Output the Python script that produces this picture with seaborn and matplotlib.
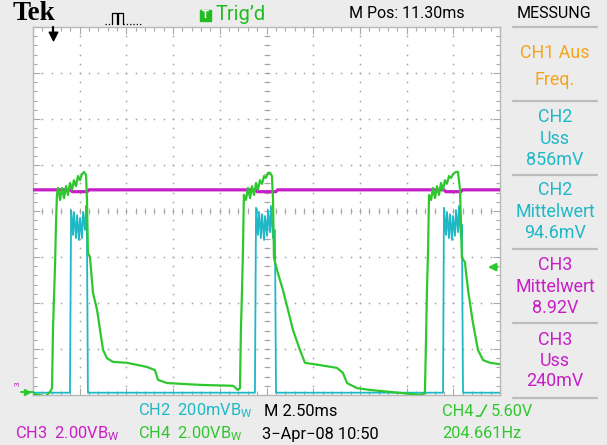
import matplotlib
matplotlib.use("Agg")
import matplotlib.pyplot as plt
from matplotlib.lines import Line2D
from matplotlib.patches import Rectangle
import numpy as np
import seaborn as sns

# ---------------- data (time in ms, amplitude in screen divisions from centre) -------------
ch4_t = [0.00, 0.37, 0.64, 0.91, 1.02, 1.07, 1.12, 1.18, 1.23, 1.28, 1.34,
         1.45, 1.55, 1.66, 1.77, 1.87, 1.98, 2.09, 2.19, 2.30, 2.41, 2.52, 2.62, 2.73, 2.84, 2.89, 2.94,
         3.05, 3.21, 3.43, 3.59, 3.75, 3.96, 4.28, 5.03, 6.10, 6.53, 6.69, 7.17, 8.94, 10.71, 10.97, 11.08,
         11.13, 11.19, 11.24, 11.29,
         11.40, 11.51, 11.62, 11.72, 11.83, 11.94, 12.04, 12.15, 12.26, 12.37, 12.47, 12.58, 12.69, 12.79, 12.85, 12.90,
         13.11, 13.38, 13.65, 13.92, 14.29, 14.56, 15.36, 16.27, 16.59, 16.81, 17.34, 18.04, 19.81, 20.72, 20.98,
         21.04, 21.09, 21.15, 21.20,
         21.31, 21.41, 21.52, 21.63, 21.73, 21.84, 21.95, 22.05, 22.16, 22.27, 22.38, 22.48, 22.64, 22.75, 22.86, 22.96,
         23.12, 23.29, 23.55, 23.82, 24.09, 24.46, 25.00]
ch4_v = [-3.98, -4.00, -4.04, -3.93, -3.85, -2.59, -1.93, -1.17, -0.30, 0.35, 0.50,
         0.24, 0.50, 0.28, 0.54, 0.35, 0.61, 0.46, 0.67, 0.54, 0.76, 0.67, 0.80, 0.85, 0.78, 0.24, -0.91,
         -1.00, -1.78, -2.15, -2.59, -3.02, -3.20, -3.28, -3.30, -3.39, -3.46, -3.67, -3.74, -3.78, -3.80, -3.89, -3.85,
         -2.59, -1.72, -0.85, 0.35,
         0.24, 0.50, 0.28, 0.54, 0.35, 0.61, 0.46, 0.67, 0.59, 0.76, 0.72, 0.83, 0.83, 0.76, 0.24, -1.02,
         -1.35, -1.72, -2.15, -2.59, -3.02, -3.30, -3.35, -3.41, -3.52, -3.74, -3.85, -3.89, -3.96, -4.00, -3.96,
         -2.80, -1.72, -0.85, 0.35,
         0.24, 0.50, 0.28, 0.54, 0.35, 0.61, 0.46, 0.67, 0.59, 0.76, 0.72, 0.80, 0.85, 0.85, 0.46, -1.02,
         -1.11, -1.72, -2.43, -3.02, -3.24, -3.30, -3.33]

ch2_t = [0.00, 1.98, 2.04, 2.14, 2.19, 2.30, 2.36, 2.46, 2.52, 2.62, 2.68, 2.78, 2.84, 2.89, 2.94,
         11.88, 11.94, 12.04, 12.10, 12.20, 12.26, 12.37, 12.42, 12.53, 12.58, 12.69, 12.74, 12.85, 12.95, 13.01,
         21.95, 22.00, 22.11, 22.16, 22.27, 22.32, 22.43, 22.48, 22.59, 22.64, 22.75, 22.80, 22.91, 22.96, 23.02, 25.00]
ch2_v = [-3.95, -3.95, 0.02, -0.52, -0.02, -0.59, -0.09, -0.63, -0.15, -0.59, -0.02, -0.41, 0.11, -0.63, -3.95,
         -3.95, 0.07, -0.52, -0.02, -0.59, -0.07, -0.63, -0.11, -0.54, 0.02, -0.46, 0.11, -0.59, -0.41, -3.95,
         -3.95, 0.07, -0.52, -0.02, -0.59, -0.07, -0.63, -0.11, -0.54, 0.02, -0.46, 0.11, -0.59, -0.30, -3.95, -3.95]

ch3_t = [0.0, 2.0, 2.1, 2.9, 3.0, 11.9, 12.0, 13.0, 13.1, 22.0, 22.1, 22.9, 23.0, 25.0]
ch3_v = [0.46, 0.46, 0.42, 0.42, 0.46, 0.46, 0.42, 0.42, 0.46, 0.46, 0.42, 0.42, 0.46, 0.46]

trig_pos_ms = 1.07
trig_level_div = -1.22

header_texts = ["Tek", "Trig\u2019d", "M Pos: 11.30ms", "MESSUNG"]
panel_blocks = [["CH1 Aus", "Freq."],
                ["CH2", "Uss", "856mV"],
                ["CH2", "Mittelwert", "94.6mV"],
                ["CH3", "Mittelwert", "8.92V"],
                ["CH3", "Uss", "240mV"]]
bottom_row1 = ["CH2  200mV$\\mathregular{B_W}$", "M 2.50ms", "CH4", "5.60V"]
bottom_row2 = ["CH3  2.00V$\\mathregular{B_W}$", "CH4  2.00V$\\mathregular{B_W}$", "3\u2212Apr\u221208 10:50", "204.661Hz"]

# ---------------- style ----------------
GREEN = "#2ec82e"
CYAN = "#1fb8c6"
MAGENTA = "#c81ec8"
ORANGE = "#f5a41e"
BG = "#ececec"
GRID = "#a8a8a8"
FONT = ["Roboto", "DejaVu Sans"]

sns.set_style("white")
plt.rcParams["font.family"] = FONT

W, H = 607, 445
fig = plt.figure(figsize=(W / 100, H / 100), dpi=100, facecolor=BG)
ax = fig.add_axes([33 / W, 1 - 395 / H, 467 / W, 368 / H])
ax.set_facecolor("white")
ax.set_xlim(0, 25)
ax.set_ylim(-4, 4)

# graticule
ax.set_xticks(np.arange(0, 25.01, 2.5))
ax.set_xticks(np.arange(0, 25.01, 0.5), minor=True)
ax.set_yticks(np.arange(-4, 4.01, 1))
ax.set_yticks(np.arange(-4, 4.01, 0.2), minor=True)
ax.tick_params(which="both", direction="in", top=True, right=True, bottom=True, left=True,
               labelbottom=False, labelleft=False, color=GRID, width=0.8)
ax.tick_params(which="major", length=5)
ax.tick_params(which="minor", length=3)
for s in ax.spines.values():
    s.set_color("#b8b8b8")
    s.set_linewidth(1.0)

ys = np.arange(-4, 4.01, 0.2)
xs = np.arange(0, 25.01, 0.5)
for xv in np.arange(2.5, 24.9, 2.5):
    ax.scatter(np.full(len(ys), xv), ys, s=1.6, color=GRID, linewidths=0, zorder=1)
for yv in np.arange(-3, 3.1, 1):
    ax.scatter(xs, np.full(len(xs), yv), s=1.6, color=GRID, linewidths=0, zorder=1)
ax.scatter(xs, np.zeros(len(xs)), marker="|", s=14, color=GRID, linewidths=0.8, zorder=1)
ax.scatter(np.full(len(ys), 12.5), ys, marker="_", s=14, color=GRID, linewidths=0.8, zorder=1)

# traces
sns.lineplot(x=ch3_t, y=ch3_v, ax=ax, color=MAGENTA, lw=2.3, sort=False, estimator=None, zorder=3)
sns.lineplot(x=ch2_t, y=ch2_v, ax=ax, color=CYAN, lw=1.3, sort=False, estimator=None, zorder=4)
sns.lineplot(x=ch4_t, y=ch4_v, ax=ax, color=GREEN, lw=1.6, sort=False, estimator=None, zorder=5)
ax.set_xlabel("")
ax.set_ylabel("")

# trigger markers
ax.plot([trig_pos_ms, trig_pos_ms], [4.0, 3.82], color="black", lw=1.6, zorder=6, clip_on=False)
ax.scatter([trig_pos_ms], [3.80], marker="v", s=38, color="black", zorder=6)
ax.annotate("", xy=(24.2, trig_level_div), xytext=(25.0, trig_level_div),
            arrowprops=dict(arrowstyle="-|>", color=GREEN, lw=1.6, mutation_scale=11), zorder=6)

# ---------------- helpers in figure pixels ----------------
renderer = fig.canvas.get_renderer()


def fx(x):
    return x / W


def fy(y):
    return 1 - y / H


def size_for(s, width, family=FONT, weight="normal"):
    t = fig.text(0, 0, s, size=12, family=family, weight=weight)
    w = t.get_window_extent(renderer).width
    t.remove()
    return 12 * width / w


def put(x, y, s, color, size, ha="left", family=FONT, weight="normal"):
    return fig.text(fx(x), fy(y), s, color=color, size=size, ha=ha, va="center",
                    family=family, weight=weight)


def right_px(t):
    return t.get_window_extent(renderer).x1


def pline(pts, color, lw=1.2, ls="-"):
    fig.add_artist(Line2D([fx(p[0]) for p in pts], [fy(p[1]) for p in pts], color=color,
                          lw=lw, ls=ls, transform=fig.transFigure))


# header
serif = ["Liberation Serif", "DejaVu Serif"]
put(13, 14, header_texts[0], "black", size_for(header_texts[0], 43, serif, "bold"), family=serif, weight="bold")
pline([(105, 24), (112, 24)], "black", lw=0.9, ls=":")
pline([(112, 24), (112, 13), (117, 13), (117, 24), (118, 24), (118, 13), (123, 13), (123, 24)], "black", lw=0.9)
pline([(123, 24), (141, 24)], "black", lw=0.9, ls=":")
fig.add_artist(Rectangle((fx(200), fy(21)), 11 / W, 11 / H, color="#22bb22", transform=fig.transFigure))
fig.text(fx(205.5), fy(15.5), "T", color="white", size=8, weight="bold", ha="center", va="center")
hsize = size_for(header_texts[2], 116)
put(216, 14, header_texts[1], "#22bb22", size_for(header_texts[1], 50))
put(349, 14, header_texts[2], "black", hsize)
put(517, 14, header_texts[3], "black", hsize)

# measurement panel
for ysep in [27, 101, 175, 249, 323, 398]:
    pline([(513, ysep), (597, ysep)], "#bcbcbc", lw=1.6)
psize = size_for("Mittelwert", 80)
panel_y = [[53, 80], [117, 139, 160], [190, 212, 233], [265, 287, 308], [340, 361, 381]]
panel_c = [ORANGE, CYAN, CYAN, MAGENTA, MAGENTA]
for block, yy, c in zip(panel_blocks, panel_y, panel_c):
    for s, y in zip(block, yy):
        put(555, y, s, c, psize, ha="center")

# bottom status lines
bsize = size_for(bottom_row1[0], 114)
put(138, 411, bottom_row1[0], CYAN, bsize)
put(264, 411, bottom_row1[1], "black", bsize)
t_ch4 = put(442, 411, bottom_row1[2], GREEN, bsize)
xe = right_px(t_ch4)
pline([(xe + 3, 416), (xe + 7, 416), (xe + 13, 405)], GREEN, lw=1.2)
put(xe + 17, 411, bottom_row1[3], GREEN, bsize)
put(15, 434, bottom_row2[0], MAGENTA, bsize)
put(138, 434, bottom_row2[1], GREEN, bsize)
put(262, 434, bottom_row2[2], "black", bsize)
put(442, 434, bottom_row2[3], GREEN, bsize)

# ground reference markers on the left
fig.text(fx(18), fy(384), "3", color=MAGENTA, size=6, rotation=90, ha="center", va="center")
pline([(21, 392), (33, 392)], GREEN, lw=1.4)
fig.add_artist(Line2D([fx(27)], [fy(392)], marker=">", color=GREEN, markersize=5,
                      transform=fig.transFigure))

fig.savefig("out.png", dpi=100, facecolor=BG)
